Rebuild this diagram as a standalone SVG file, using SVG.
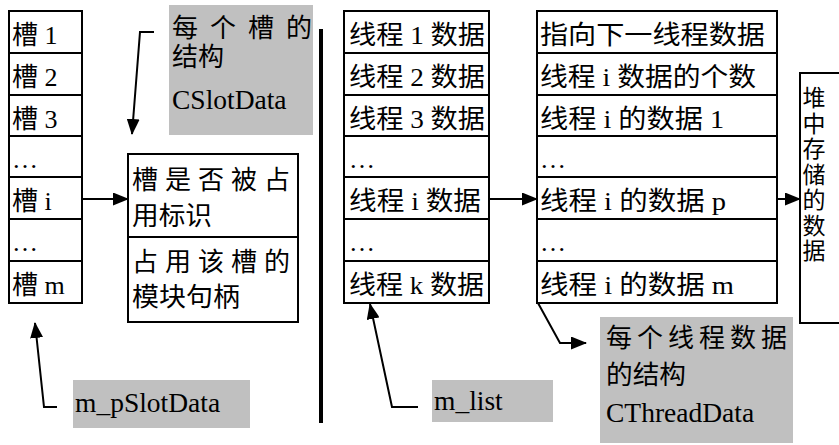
<svg xmlns="http://www.w3.org/2000/svg" width="839" height="445" viewBox="0 0 839 445">
<style>
.cell{fill:#fff;stroke:#000;stroke-width:2}
.gray{fill:#c0c0c0;stroke:none}
.t{font-family:"Liberation Serif","Noto Sans CJK SC",serif;font-size:26px;fill:#000}
.l{font-family:"Liberation Serif","Noto Sans CJK SC",serif;font-size:27.5px;fill:#000}
.v{font-family:"Liberation Serif","Noto Sans CJK SC",serif;font-size:23px;fill:#000;text-anchor:middle}
.c{fill:none;stroke:#000;stroke-width:2}
</style>
<defs>
<marker id="ah" markerUnits="userSpaceOnUse" markerWidth="17" markerHeight="13" refX="15" refY="6.5" orient="auto">
<path d="M0,0 L16,6.5 L0,13 Z" fill="#000"/>
</marker>
</defs>
<rect width="839" height="445" fill="#fff"/>

<g id="slot-array">
<rect class="cell" x="9" y="11" width="73" height="42"/>
<rect class="cell" x="9" y="53" width="73" height="42"/>
<rect class="cell" x="9" y="95" width="73" height="41"/>
<rect class="cell" x="9" y="136" width="73" height="41"/>
<rect class="cell" x="9" y="177" width="73" height="42"/>
<rect class="cell" x="9" y="219" width="73" height="42"/>
<rect class="cell" x="9" y="261" width="73" height="42"/>
<text class="t" x="12" y="44">槽 1</text>
<text class="t" x="12" y="86">槽 2</text>
<text class="t" x="12" y="128">槽 3</text>
<text class="t" x="12" y="168">…</text>
<text class="t" x="12" y="210">槽 i</text>
<text class="t" x="12" y="251">…</text>
<text class="t" x="12" y="294">槽 m</text>
</g>

<g id="slot-struct">
<rect class="cell" x="128" y="154" width="170" height="83"/>
<rect class="cell" x="128" y="237" width="170" height="85"/>
<text class="t" x="132" y="189" textLength="158" lengthAdjust="spacing">槽是否被占</text>
<text class="t" x="132" y="225" textLength="80" lengthAdjust="spacingAndGlyphs">用标识</text>
<text class="t" x="132" y="271" textLength="158" lengthAdjust="spacing">占用该槽的</text>
<text class="t" x="132" y="306" textLength="108" lengthAdjust="spacingAndGlyphs">模块句柄</text>
</g>

<g id="note-cslotdata">
<rect class="gray" x="169" y="5" width="144" height="130"/>
<text class="t" x="172" y="37" textLength="140" lengthAdjust="spacing">每个槽的</text>
<text class="t" x="172" y="66" textLength="52" lengthAdjust="spacingAndGlyphs">结构</text>
<text class="l" x="172" y="109">CSlotData</text>
</g>

<g id="note-pslotdata">
<rect class="gray" x="73" y="380" width="177" height="48"/>
<text class="l" x="75" y="412">m_pSlotData</text>
</g>

<g id="divider">
<rect x="319" y="29" width="4" height="394" fill="#000"/>
</g>

<g id="thread-list">
<rect class="cell" x="344" y="11" width="145" height="42"/>
<rect class="cell" x="344" y="53" width="145" height="42"/>
<rect class="cell" x="344" y="95" width="145" height="41"/>
<rect class="cell" x="344" y="136" width="145" height="41"/>
<rect class="cell" x="344" y="177" width="145" height="42"/>
<rect class="cell" x="344" y="219" width="145" height="42"/>
<rect class="cell" x="344" y="261" width="145" height="42"/>
<text class="t" x="349" y="44" textLength="136" lengthAdjust="spacingAndGlyphs">线程 1 数据</text>
<text class="t" x="349" y="86" textLength="136" lengthAdjust="spacingAndGlyphs">线程 2 数据</text>
<text class="t" x="349" y="128" textLength="136" lengthAdjust="spacingAndGlyphs">线程 3 数据</text>
<text class="t" x="349" y="168">…</text>
<text class="t" x="349" y="210" textLength="132" lengthAdjust="spacingAndGlyphs">线程 i 数据</text>
<text class="t" x="349" y="251">…</text>
<text class="t" x="349" y="294" textLength="135" lengthAdjust="spacingAndGlyphs">线程 k 数据</text>
</g>

<g id="note-mlist">
<rect class="gray" x="432" y="380" width="121" height="42"/>
<text class="l" x="434" y="410">m_list</text>
</g>

<g id="thread-struct">
<rect class="cell" x="537" y="11" width="240" height="42"/>
<rect class="cell" x="537" y="53" width="240" height="42"/>
<rect class="cell" x="537" y="95" width="240" height="41"/>
<rect class="cell" x="537" y="136" width="240" height="41"/>
<rect class="cell" x="537" y="177" width="240" height="42"/>
<rect class="cell" x="537" y="219" width="240" height="42"/>
<rect class="cell" x="537" y="261" width="240" height="42"/>
<text class="t" x="540" y="44" textLength="225" lengthAdjust="spacingAndGlyphs">指向下一线程数据</text>
<text class="t" x="540" y="86" textLength="216" lengthAdjust="spacingAndGlyphs">线程 i 数据的个数</text>
<text class="t" x="540" y="128" textLength="184" lengthAdjust="spacingAndGlyphs">线程 i 的数据 1</text>
<text class="t" x="540" y="168">…</text>
<text class="t" x="540" y="210" textLength="186" lengthAdjust="spacingAndGlyphs">线程 i 的数据 p</text>
<text class="t" x="540" y="251">…</text>
<text class="t" x="540" y="294" textLength="194" lengthAdjust="spacingAndGlyphs">线程 i 的数据 m</text>
</g>

<g id="heap">
<rect class="cell" x="800" y="73" width="60" height="250"/>
<text class="v" x="814" y="106">堆</text>
<text class="v" x="814" y="131.5">中</text>
<text class="v" x="814" y="157">存</text>
<text class="v" x="814" y="182.5">储</text>
<text class="v" x="814" y="208">的</text>
<text class="v" x="814" y="233.5">数</text>
<text class="v" x="814" y="259">据</text>
</g>

<g id="note-cthreaddata">
<rect class="gray" x="600" y="317" width="193" height="126"/>
<text class="t" x="606" y="347" textLength="181" lengthAdjust="spacing">每个线程数据</text>
<text class="t" x="606" y="384" textLength="80" lengthAdjust="spacingAndGlyphs">的结构</text>
<text class="l" x="606" y="422">CThreadData</text>
</g>

<g id="connectors">
<path class="c" d="M82,199 L128,199" marker-end="url(#ah)"/>
<path class="c" d="M154,32 L140,32 L132,134" marker-end="url(#ah)"/>
<path class="c" d="M57,407 L44,407 L35,323" marker-end="url(#ah)"/>
<path class="c" d="M418,407 L392,407 L370,304" marker-end="url(#ah)"/>
<path class="c" d="M489,199 L537,199" marker-end="url(#ah)"/>
<path class="c" d="M777,199 L800,199" marker-end="url(#ah)"/>
<path class="c" d="M538,303 L560,343 L586,343" marker-end="url(#ah)"/>
</g>
</svg>
